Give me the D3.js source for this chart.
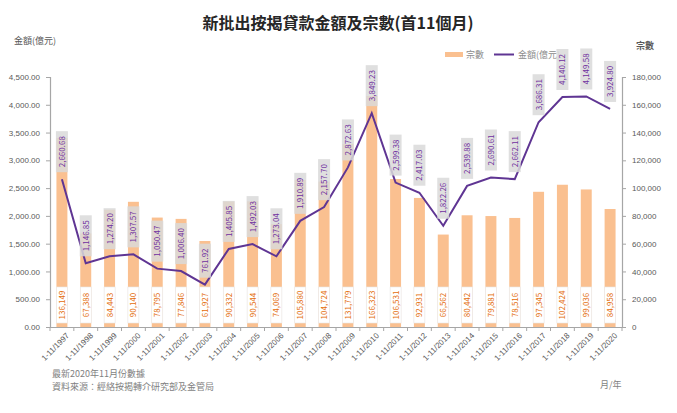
<!DOCTYPE html>
<html>
<head>
<meta charset="utf-8">
<script src="https://cdn.jsdelivr.net/npm/d3@7"></script>
<style>
  body { margin: 0; background: #fff; }
  svg { font-family: "Noto Sans CJK TC", "Noto Sans", sans-serif; }
</style>
</head>
<body>
<svg width="677" height="413"></svg>
<script>
const years = ["1997","1998","1999","2000","2001","2002","2003","2004","2005","2006","2007","2008",
  "2009","2010","2011","2012","2013","2014","2015","2016","2017","2018","2019","2020"];
const categories = years.map((y) => "1-11/" + y);
const amounts = [2660.68, 1146.85, 1274.20, 1307.57, 1050.47, 1006.40, 761.92, 1405.85, 1492.03, 1273.04,
  1910.89, 2157.70, 2872.63, 3849.23, 2599.38, 2417.03, 1822.26, 2539.88, 2690.61, 2662.11,
  3686.31, 4140.12, 4149.58, 3924.80];
const cases = [136149, 67388, 84443, 90140, 78795, 77846, 61927, 90332, 90544, 74069, 105880, 104724,
  131779, 166323, 106531, 92931, 66562, 80442, 79881, 78516, 97345, 102424, 99036, 84958];
const leftTicks = [0, 500, 1000, 1500, 2000, 2500, 3000, 3500, 4000, 4500];
const rightTicks = [0, 20000, 40000, 60000, 80000, 100000, 120000, 140000, 160000, 180000];

const svg = d3.select("svg");
const barColor = "#fac090";
const lineColor = "#5f3593";
const axisColor = "#a6a6a6";
const textColor = "#595959";

const plotL = 50, plotR = 622, plotT = 77, plotB = 327;

const x = d3.scaleBand().domain(categories).range([plotL, plotR]);
const yL = d3.scaleLinear().domain([0, 4500]).range([plotB, plotT]);
const yR = d3.scaleLinear().domain([0, 180000]).range([plotB, plotT]);
const barW = x.bandwidth() * 0.46;
const cx = (d) => x(d) + x.bandwidth() / 2;

// title
svg.append("text")
  .attr("x", 338).attr("y", 29)
  .attr("text-anchor", "middle")
  .attr("font-size", 16).attr("font-weight", "bold")
  .attr("fill", "#262626")
  .text("新批出按揭貸款金額及宗數(首11個月)");

// axis titles
svg.append("text").attr("x", 14).attr("y", 44)
  .attr("font-size", 9).attr("fill", textColor).text("金額(億元)");
svg.append("text").attr("x", 636).attr("y", 49)
  .attr("font-size", 9).attr("font-weight", "bold").attr("fill", textColor).text("宗數");

// legend
svg.append("rect").attr("x", 445).attr("y", 52).attr("width", 18).attr("height", 5).attr("fill", barColor);
svg.append("text").attr("x", 466).attr("y", 58).attr("font-size", 9).attr("fill", "#8c8c8c").text("宗數");
svg.append("line").attr("x1", 494).attr("x2", 514).attr("y1", 54.5).attr("y2", 54.5)
  .attr("stroke", lineColor).attr("stroke-width", 2);
svg.append("text").attr("x", 518).attr("y", 58).attr("font-size", 9).attr("fill", "#8c8c8c").text("金額(億元)");

// bars
svg.selectAll(".bar")
  .data(categories)
  .enter()
  .append("rect")
  .classed("bar", true)
  .attr("x", (d) => cx(d) - barW / 2)
  .attr("width", barW)
  .attr("y", (d, i) => yR(cases[i]))
  .attr("height", (d, i) => plotB - yR(cases[i]))
  .attr("fill", barColor);

// left axis
const axisL = svg.append("g")
  .attr("transform", `translate(${plotL},0)`)
  .call(d3.axisLeft(yL).tickValues(leftTicks).tickSize(4).tickFormat(d3.format(",.2f")));
axisL.selectAll("text").attr("font-size", 8).attr("fill", textColor).attr("dx", -3);

// right axis
const axisR = svg.append("g")
  .attr("transform", `translate(${plotR},0)`)
  .call(d3.axisRight(yR).tickValues(rightTicks).tickSize(4).tickFormat(d3.format(",")));
axisR.selectAll("text").attr("font-size", 8).attr("fill", textColor).attr("dx", 3);

// bottom axis
const axisB = svg.append("g")
  .attr("transform", `translate(0,${plotB})`)
  .call(d3.axisBottom(x).tickSize(0).tickPadding(6));
axisB.selectAll("text")
  .attr("font-size", 8).attr("fill", textColor)
  .attr("text-anchor", "end")
  .attr("transform", "rotate(-45)")
  .attr("dx", -1).attr("dy", 6);
svg.selectAll(".xtick")
  .data(categories.concat([null]))
  .enter()
  .append("line")
  .attr("x1", (d) => (d ? x(d) : plotR)).attr("x2", (d) => (d ? x(d) : plotR))
  .attr("y1", plotB).attr("y2", plotB + 4)
  .attr("stroke", axisColor);

[axisL, axisR, axisB].forEach((g) => {
  g.selectAll("path, line").attr("stroke", axisColor);
  g.select(".domain").attr("stroke-width", 1.2);
});

// bar labels (at base)
const barLabels = svg.selectAll(".barLabel")
  .data(categories)
  .enter()
  .append("g")
  .attr("transform", (d) => `translate(${cx(d)},${plotB - 4}) rotate(-90)`);
barLabels.append("rect")
  .attr("x", 0).attr("y", -5.5).attr("width", 36).attr("height", 11)
  .attr("fill", "#fff").attr("stroke", "#e6e6e6").attr("stroke-width", 0.6);
barLabels.append("text")
  .attr("x", 18).attr("y", 3)
  .attr("text-anchor", "middle")
  .attr("font-size", 8).attr("fill", "#e46c0a")
  .text((d, i) => d3.format(",")(cases[i]));

// line
svg.append("path")
  .datum(categories)
  .attr("fill", "none")
  .attr("stroke", lineColor)
  .attr("stroke-width", 2)
  .attr("d", d3.line().x((d) => cx(d)).y((d, i) => yL(amounts[i])));

// line labels (above points)
const lineLabels = svg.selectAll(".lineLabel")
  .data(categories)
  .enter()
  .append("g")
  .attr("transform", (d, i) => `translate(${cx(d)},${yL(amounts[i]) - 7}) rotate(-90)`);
lineLabels.append("rect")
  .attr("x", 0).attr("y", -6).attr("width", (d, i) => amounts[i] < 1000 ? 34 : 41).attr("height", 12)
  .attr("fill", "#d9d9d9").attr("opacity", 0.85);
lineLabels.append("text")
  .attr("x", (d, i) => amounts[i] < 1000 ? 17 : 20.5).attr("y", 3)
  .attr("text-anchor", "middle")
  .attr("font-size", 8).attr("fill", "#7030a0")
  .text((d, i) => d3.format(",.2f")(amounts[i]));

// footer
svg.append("text").attr("x", 52).attr("y", 377).attr("font-size", 9).attr("fill", "#7f7f7f")
  .text("最新2020年11月份數據");
svg.append("text").attr("x", 52).attr("y", 390).attr("font-size", 9).attr("fill", "#7f7f7f")
  .text("資料來源：經絡按揭轉介研究部及金管局");
svg.append("text").attr("x", 600).attr("y", 388).attr("font-size", 9).attr("fill", "#7f7f7f")
  .text("月/年");
</script>
</body>
</html>
